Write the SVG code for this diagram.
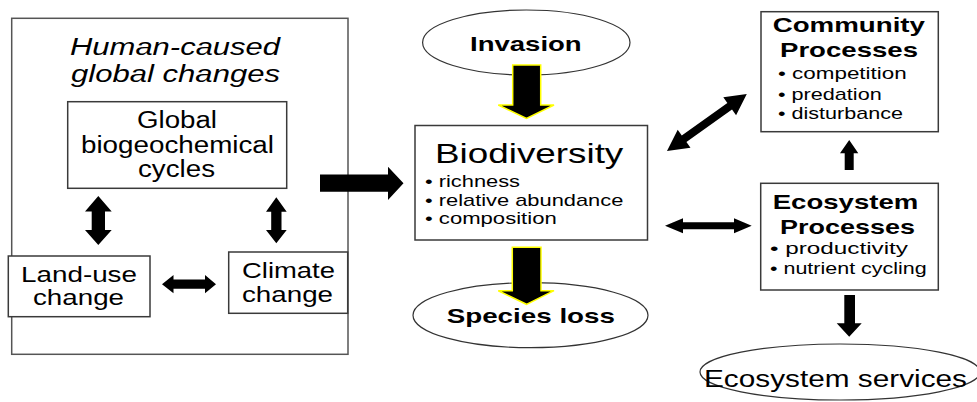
<svg xmlns="http://www.w3.org/2000/svg" width="977" height="402" viewBox="0 0 977 402">
<style>
text{font-family:"Liberation Sans",Arial,sans-serif;fill:#000}
.b{font-weight:bold}
.i{font-style:italic}
.box{fill:#fff;stroke:#3a3a3a;stroke-width:1.5}
.ell{fill:#fff;stroke:#333;stroke-width:1.2}
.ar{fill:#000;stroke:none}
.ya{fill:#000;stroke:#ffff00;stroke-width:1.5;stroke-linejoin:miter}
</style>
<rect width="977" height="402" fill="#fff"/>

<g id="global-changes">
<rect x="11.7" y="18.3" width="336.3" height="336" fill="#fff" stroke="#555" stroke-width="1.5"/>
<text class="i" x="70" y="55" font-size="23" textLength="210" lengthAdjust="spacingAndGlyphs">Human-caused</text>
<text class="i" x="71" y="82" font-size="23" textLength="209" lengthAdjust="spacingAndGlyphs">global changes</text>
</g>

<g id="biogeochemical">
<rect class="box" x="67.7" y="101.7" width="219" height="86.6"/>
<text x="137" y="128" font-size="23" textLength="80" lengthAdjust="spacingAndGlyphs">Global</text>
<text x="81" y="153" font-size="23" textLength="193" lengthAdjust="spacingAndGlyphs">biogeochemical</text>
<text x="138" y="177" font-size="23" textLength="77" lengthAdjust="spacingAndGlyphs">cycles</text>
</g>

<g id="land-use">
<rect class="box" x="8.3" y="256" width="141.7" height="60.7"/>
<text x="21" y="281.7" font-size="22" textLength="116" lengthAdjust="spacingAndGlyphs">Land-use</text>
<text x="33" y="305" font-size="22" textLength="91" lengthAdjust="spacingAndGlyphs">change</text>
</g>

<g id="climate">
<rect class="box" x="228.7" y="252" width="119" height="61.3"/>
<text x="242" y="277.7" font-size="22" textLength="93" lengthAdjust="spacingAndGlyphs">Climate</text>
<text x="242" y="301.7" font-size="22" textLength="91" lengthAdjust="spacingAndGlyphs">change</text>
</g>

<g id="invasion">
<ellipse class="ell" cx="526.3" cy="42.5" rx="103.7" ry="32.5"/>
<text class="b" x="470" y="51" font-size="21" textLength="111.7" lengthAdjust="spacingAndGlyphs">Invasion</text>
</g>

<g id="biodiversity">
<rect class="box" x="415" y="125.5" width="232.5" height="114.5"/>
<text x="435" y="163.3" font-size="28" textLength="188.3" lengthAdjust="spacingAndGlyphs">Biodiversity</text>
<text x="425" y="186.7" font-size="17" textLength="95" lengthAdjust="spacingAndGlyphs">• richness</text>
<text x="425" y="205.5" font-size="17" textLength="198.3" lengthAdjust="spacingAndGlyphs">• relative abundance</text>
<text x="425" y="224" font-size="17" textLength="131.7" lengthAdjust="spacingAndGlyphs">• composition</text>
</g>

<g id="species-loss">
<ellipse class="ell" cx="530.5" cy="315.2" rx="117.5" ry="32.5"/>
<text class="b" x="446.7" y="322.7" font-size="21" textLength="168.3" lengthAdjust="spacingAndGlyphs">Species loss</text>
</g>

<g id="community">
<rect class="box" x="761" y="11.7" width="177.3" height="120"/>
<text class="b" x="772.7" y="31.7" font-size="21" textLength="152.3" lengthAdjust="spacingAndGlyphs">Community</text>
<text class="b" x="780" y="56.7" font-size="21" textLength="138" lengthAdjust="spacingAndGlyphs">Processes</text>
<text x="778" y="79.3" font-size="17" textLength="128.7" lengthAdjust="spacingAndGlyphs">•  competition</text>
<text x="778" y="100" font-size="17" textLength="103.7" lengthAdjust="spacingAndGlyphs">• predation</text>
<text x="778" y="119.3" font-size="17" textLength="125" lengthAdjust="spacingAndGlyphs">• disturbance</text>
</g>

<g id="ecosystem">
<rect class="box" x="760.7" y="183.3" width="177.6" height="106.7"/>
<text class="b" x="772.7" y="209.3" font-size="21" textLength="145.6" lengthAdjust="spacingAndGlyphs">Ecosystem</text>
<text class="b" x="780" y="234" font-size="21" textLength="135" lengthAdjust="spacingAndGlyphs">Processes</text>
<text x="770" y="254" font-size="17" textLength="138" lengthAdjust="spacingAndGlyphs">•  productivity</text>
<text x="770" y="274.3" font-size="17" textLength="156.7" lengthAdjust="spacingAndGlyphs">• nutrient cycling</text>
</g>

<g id="services">
<ellipse class="ell" cx="840" cy="372" rx="140" ry="28"/>
<text x="704" y="386.7" font-size="23" textLength="263" lengthAdjust="spacingAndGlyphs">Ecosystem services</text>
</g>

<g id="connectors">
<!-- global changes -> biodiversity -->
<polygon class="ar" points="320,174.5 388,174.5 388,166.7 403.5,183.3 388,200 388,191.7 320,191.7"/>
<!-- invasion -> biodiversity -->
<polygon class="ya" points="512.7,65 540.7,65 540.7,105 554,105 526.5,118.5 498.3,105 512.7,105"/>
<!-- biodiversity -> species loss -->
<polygon class="ya" points="512.3,247.3 541,247.3 541,290.7 554,290.7 526.5,304.3 498.3,290.7 512.3,290.7"/>
<!-- biogeochemical <-> land-use -->
<polygon class="ar" points="98.3,196 111.7,211.5 105,211.5 105,230 111.7,230 98.3,245 85,230 91.7,230 91.7,211.5 85,211.5"/>
<!-- biogeochemical <-> climate -->
<polygon class="ar" points="276.3,197.3 286.7,211.7 281.5,211.7 281.5,230 286.7,230 276.3,243.3 266,230 271.2,230 271.2,211.7 266,211.7"/>
<!-- land-use <-> climate -->
<polygon class="ar" points="162,284.2 173.5,275 173.5,279.5 205,279.5 205,275 216,284.2 205,293.3 205,288.7 173.5,288.7 173.5,293.3"/>
<!-- biodiversity <-> community -->
<polygon class="ar" transform="translate(667,151) rotate(-35.5)" points="0,0 21,-11 21,-4 77,-4 77,-11 98,0 77,11 77,4 21,4 21,11"/>
<!-- biodiversity <-> ecosystem -->
<polygon class="ar" points="665,225.7 683,218.3 683,222.2 734,222.2 734,218.3 751.7,225.7 734,233.3 734,229.3 683,229.3 683,233.3"/>
<!-- ecosystem -> community -->
<polygon class="ar" points="849.2,140 858.3,153.3 853.7,153.3 853.7,170 844.7,170 844.7,153.3 840,153.3"/>
<!-- ecosystem -> services -->
<polygon class="ar" points="844.3,295 855,295 855,323.3 861.7,323.3 849.2,336.7 836.7,323.3 844.3,323.3"/>
</g>
</svg>
